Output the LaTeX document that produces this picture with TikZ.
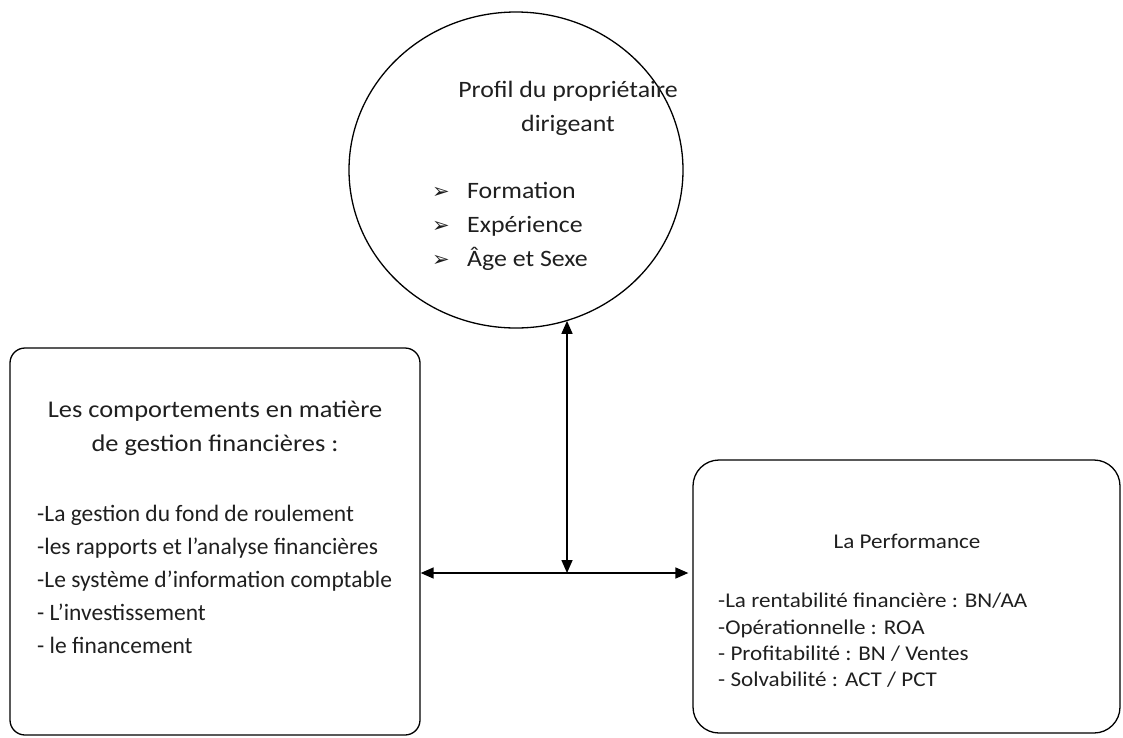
\documentclass[tikz,border=0pt]{standalone}
\usepackage{fontspec}
\setmainfont{Carlito}
\newfontfamily\wide{Carlito}[FakeStretch=1.1]
\newfontfamily\dejavu{DejaVu Sans}
\usetikzlibrary{arrows.meta,shapes.geometric}
\tikzset{
  frame/.style={draw, line width=1.3pt, rounded corners=#1, inner sep=0pt},
  txt/.style={inner sep=0pt, text=black!88},
  link/.style={line width=1.5pt, {Triangle[length=13pt,width=11pt]}-{Triangle[length=13pt,width=11pt]}},
}
\newcommand{\blt}{\makebox[35pt][l]{\dejavu\fontsize{21}{21}\selectfont ➢}}
\begin{document}
\begin{tikzpicture}[x=1pt,y=-1pt]
\useasboundingbox (0,0) rectangle (1123,737);
% shapes
\node[draw, ellipse, line width=1.3pt, minimum width=334pt, minimum height=316pt, inner sep=0pt] (ell) at (516,170) {};
\node[frame=15pt, minimum width=410pt, minimum height=387pt] (lbox) at (215,541.5) {};
\node[frame=26pt, minimum width=427pt, minimum height=273pt] (rbox) at (906.5,596.5) {};
% ellipse text
\node[txt, align=center, anchor=north, font=\wide\fontsize{23.5}{34}\selectfont] (eh) at (568,81) {Profil du propriétaire\\dirigeant};
\node[txt, align=left, anchor=north west, font=\wide\fontsize{23.5}{34}\selectfont] (el) at (432,182) {\blt Formation\\\blt Expérience\\\blt Âge et Sexe};
% left box text
\node[txt, align=center, anchor=north, font=\wide\fontsize{24}{34}\selectfont] (lh) at (215,400.5) {Les comportements en matière\\de gestion financières :};
\node[txt, align=left, anchor=north west, font=\fontsize{23.5}{33.2}\selectfont] (ll) at (37,504.5) {-La gestion du fond de roulement\\-les rapports et l’analyse financières\\-Le système d’information comptable\\- L’investissement\\- le financement};
% right box text
\node[txt, anchor=north, font=\wide\fontsize{21}{26.3}\selectfont] (rh) at (907,534) {La Performance};
\node[txt, align=left, anchor=north west, font=\wide\fontsize{21}{26.3}\selectfont] (rl) at (718,593) {-La rentabilité financière : BN/AA\\-Opérationnelle : ROA\\- Profitabilité : BN / Ventes\\- Solvabilité : ACT / PCT};
% connectors
\coordinate (j) at (567,573);
\draw[link] (j |- ell.-71) -- (j);
\draw[link, shorten >=4pt] (lbox.east |- j) -- (rbox.west |- j);
\end{tikzpicture}
\end{document}
